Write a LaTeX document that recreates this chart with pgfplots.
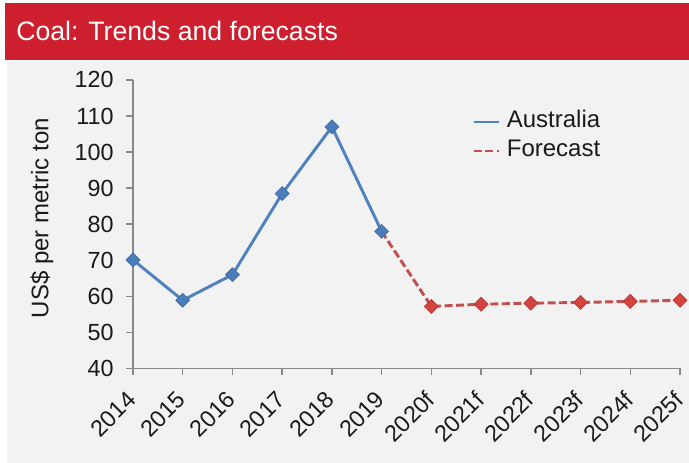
\documentclass[border=0pt]{standalone}
\usepackage{pgfplots}
\pgfplotsset{compat=1.18}
\usepackage{fontspec}
\setmainfont{Liberation Sans}

\definecolor{bandred}{RGB}{205,31,46}
\definecolor{panelgray}{RGB}{242,242,242}
\definecolor{axisgray}{RGB}{137,137,137}
\definecolor{textblack}{RGB}{26,26,26}
\definecolor{ausblue}{RGB}{79,129,189}
\definecolor{ausmark}{RGB}{74,126,187}
\definecolor{ausedge}{RGB}{60,107,165}
\definecolor{fcline}{RGB}{192,80,77}
\definecolor{fcmark}{RGB}{212,67,61}
\definecolor{fcedge}{RGB}{176,58,54}

\begin{document}
\begin{tikzpicture}[x=1pt,y=1pt]
% page, grey panel and red title band
\fill[white] (0,0) rectangle (516.75,347.25);
\fill[panelgray] (5.25,0) rectangle (516.75,301.5);
\fill[bandred] (3.75,302.25) rectangle (516.75,345);
\node[anchor=west, text=white, inner sep=0pt,
      font=\fontsize{20}{24}\selectfont] at (12,324) {Coal: Trends and forecasts};

\begin{axis}[
  at={(99.75pt,70.9pt)}, anchor=south west,
  width=410.25pt, height=216.4pt, scale only axis,
  xmin=0, xmax=11, ymin=40, ymax=120,
  clip=false,
  axis x line*=bottom, axis y line*=left,
  axis line style={axisgray, line width=1.1pt},
  xtick={0,...,11},
  xticklabels={2014,2015,2016,2017,2018,2019,2020f,2021f,2022f,2023f,2024f,2025f},
  ytick={40,50,...,120},
  tick style={axisgray, line width=1.1pt},
  tick align=outside, major tick length=5pt,
  /pgf/number format/assume math mode=true,
  tick label style={font=\fontsize{17.5}{20}\selectfont, text=textblack},
  xticklabel style={xshift=-5.5pt, yshift=-9.5pt, rotate=45, anchor=north east, inner sep=1pt},
  yticklabel style={xshift=-6pt},
  ylabel={US\$ per metric ton},
  every axis y label/.style={at={(axis description cs:-0.1664,0.5215)},
    rotate=90, anchor=center, font=\fontsize{18}{21}\selectfont, text=textblack},
  legend style={at={(axis description cs:0.6197,0.804)}, anchor=west,
    draw=none, fill=none, font=\fontsize{18}{21}\selectfont, text=textblack,
    inner sep=0pt, row sep=2.75pt,
    nodes={inner sep=1pt, text height=13pt, text depth=4pt},
    /tikz/every odd column/.append style={column sep=4pt}},
  legend cell align=left,
  legend image code/.code={\draw[#1] (0pt,0pt) -- (18.75pt,0pt);},
]
% forecast segment, drawn first so the 2019 marker of the actual series sits on top
\addplot[fcline, line width=2.2pt, dash pattern=on 6pt off 2.6pt,
  mark=square*, mark size=3.7pt, mark indices={2,3,4,5,6,7},
  mark options={solid, rotate=45, fill=fcmark, draw=fcedge, line width=0.5pt},
  forget plot]
  coordinates {(5,78.0) (6,57.2) (7,57.8) (8,58.1) (9,58.3) (10,58.6) (11,58.9)};

% actual prices
\addplot[ausblue, line width=2.2pt,
  mark=square*, mark size=3.7pt,
  mark options={solid, rotate=45, fill=ausmark, draw=ausedge, line width=0.5pt},
  forget plot]
  coordinates {(0,70.1) (1,58.9) (2,66.0) (3,88.5) (4,107.0) (5,78.0)};

\addlegendimage{ausblue, line width=2.2pt}
\addlegendentry{Australia}
\addlegendimage{fcline, line width=2.2pt, dash pattern=on 6pt off 2.6pt}
\addlegendentry{Forecast}
\end{axis}

\pgfresetboundingbox
\path[use as bounding box] (0,0) rectangle (516.75,347.25);
\end{tikzpicture}
\end{document}
